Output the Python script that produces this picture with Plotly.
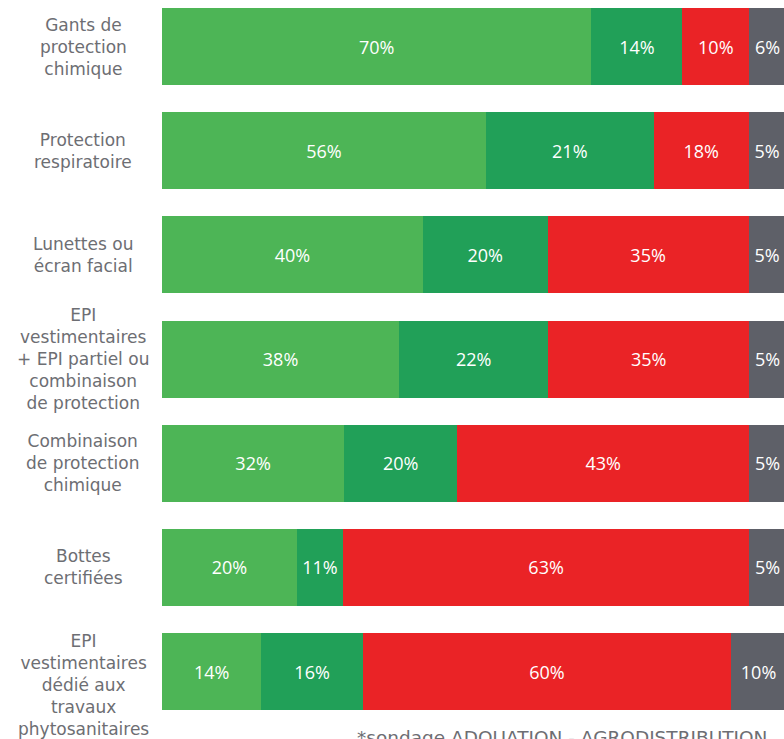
import plotly.graph_objects as go

# Categories (top to bottom)
categories = [
    "Gants de protection chimique",
    "Protection respiratoire",
    "Lunettes ou écran facial",
    "EPI vestimentaires + EPI partiel ou combinaison de protection",
    "Combinaison de protection chimique",
    "Bottes certifiées",
    "EPI vestimentaires dédié aux travaux phytosanitaires",
]
category_labels = [
    "Gants de<br>protection<br>chimique",
    "Protection<br>respiratoire",
    "Lunettes ou<br>écran facial",
    "EPI<br>vestimentaires<br>+ EPI partiel ou<br>combinaison<br>de protection",
    "Combinaison<br>de protection<br>chimique",
    "Bottes<br>certifiées",
    "EPI<br>vestimentaires<br>dédié aux<br>travaux<br>phytosanitaires",
]

# Segment lengths as drawn in the picture (estimated, share of full bar)
seg1_len = [68.8, 51.9, 41.8, 38.0, 29.2, 21.6, 15.9]
seg2_len = [14.6, 26.9, 20.0, 23.9, 18.1, 7.4, 16.3]
seg3_len = [10.7, 15.2, 32.2, 32.2, 46.8, 65.1, 59.0]
seg4_len = [5.9, 5.9, 5.9, 5.9, 5.9, 5.9, 8.8]

# Printed percentages
seg1_pct = [70, 56, 40, 38, 32, 20, 14]
seg2_pct = [14, 21, 20, 22, 20, 11, 16]
seg3_pct = [10, 18, 35, 35, 43, 63, 60]
seg4_pct = [6, 5, 5, 5, 5, 5, 10]

footnote = "*sondage ADQUATION - AGRODISTRIBUTION"

colors = ["#4DB556", "#21A058", "#EA2326", "#5E6068"]
LABEL_FONT = "DejaVu Sans"
NUM_FONT = "Open Sans"
W, H = 784, 739
L = 162          # left edge of bars
PW = W - L       # plot width

fig = go.Figure()
for lens, pcts, col in zip([seg1_len, seg2_len, seg3_len, seg4_len],
                           [seg1_pct, seg2_pct, seg3_pct, seg4_pct], colors):
    fig.add_trace(go.Bar(
        y=categories, x=lens, orientation="h",
        marker=dict(color=col, line=dict(width=0)),
        text=[f"{p}%" for p in pcts],
        textposition="inside", insidetextanchor="middle",
        textfont=dict(color="white", size=18, family=NUM_FONT),
        cliponaxis=True, hoverinfo="skip", showlegend=False,
    ))

# geometry of the category axis (figure pixels)
first_c, step = 46.5, 104.17
y_top = -first_c / step
y_bot = (H - first_c) / step

label_shift = [0, 0, 0, 0, 0, 0, -13]
annotations = []
for cat, lab, ys in zip(categories, category_labels, label_shift):
    annotations.append(dict(
        x=(83 - L) / PW, xref="paper", y=cat, yref="y",
        text=lab, showarrow=False, align="center",
        xanchor="center", yanchor="middle", yshift=ys,
        font=dict(size=17, color="#6D6E73", family=LABEL_FONT),
    ))
annotations.append(dict(
    x=(562 - L) / PW, xref="paper", y=1 - 725 / H, yref="paper",
    text=footnote, showarrow=False, xanchor="center", yanchor="top",
    font=dict(size=18.5, color="#6D6E73", family=LABEL_FONT),
))

fig.update_layout(
    width=W, height=H,
    margin=dict(l=L, r=0, t=0, b=0),
    barmode="stack", bargap=1 - 77 / step,
    plot_bgcolor="white", paper_bgcolor="white",
    xaxis=dict(range=[0, PW / 6.24], visible=False, fixedrange=True),
    yaxis=dict(type="category", categoryorder="array", categoryarray=categories,
               range=[y_bot, y_top], showticklabels=False, showgrid=False,
               zeroline=False, showline=False, ticks=""),
    uniformtext=dict(minsize=18, mode="show"),
    annotations=annotations,
    font=dict(family=LABEL_FONT),
)

fig.write_html(
    "out.html",
    config={"displayModeBar": False, "staticPlot": True},
    post_script="document.body.style.margin='0';document.body.style.overflow='hidden';",
)
